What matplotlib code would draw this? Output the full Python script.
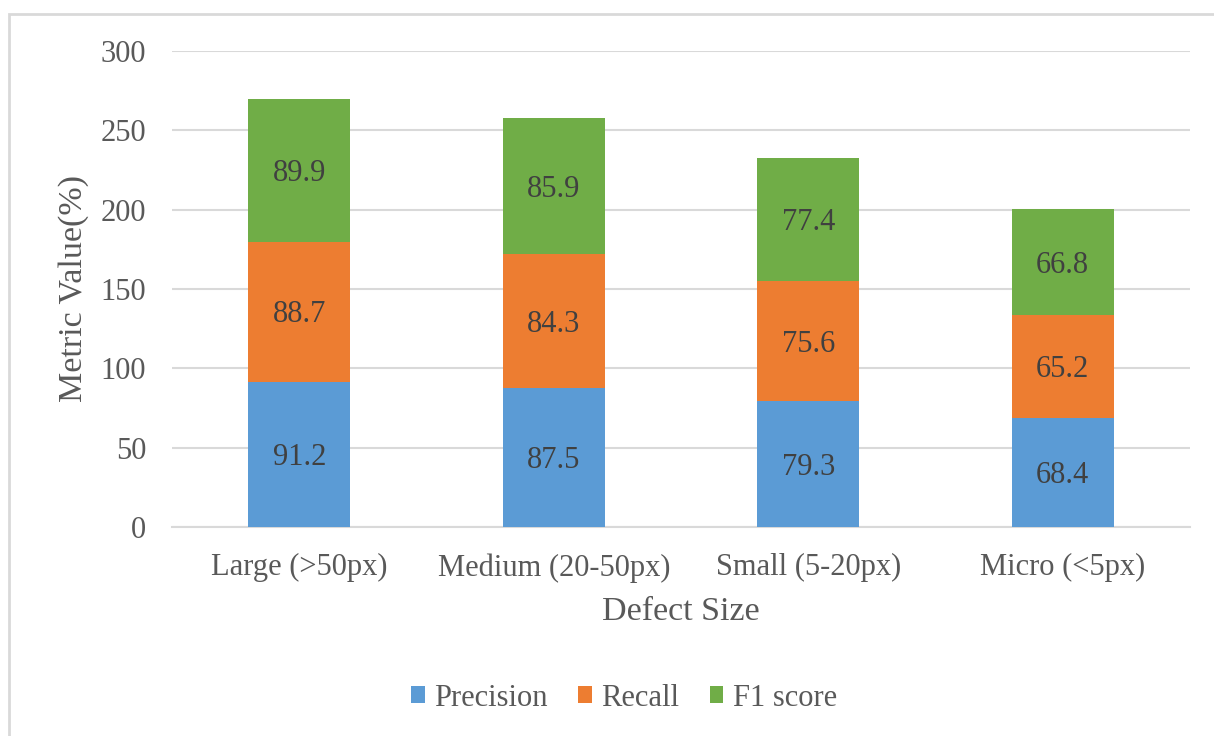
import matplotlib
matplotlib.use("Agg")
import matplotlib.pyplot as plt
from matplotlib.patches import Rectangle
import numpy as np

categories = ["Large (>50px)", "Medium (20-50px)", "Small (5-20px)", "Micro (<5px)"]
precision = [91.2, 87.5, 79.3, 68.4]
recall = [88.7, 84.3, 75.6, 65.2]
f1_score = [89.9, 85.9, 77.4, 66.8]
series_names = ["Precision", "Recall", "F1 score"]
colors = ["#5B9BD5", "#ED7D31", "#70AD47"]

W, H, DPI = 1214, 736, 100
plt.rcParams["font.family"] = ["Liberation Serif", "DejaVu Serif"]
text_color = "#595959"

fig = plt.figure(figsize=(W / DPI, H / DPI), dpi=DPI)
fig.patch.set_facecolor("white")

# outer chart frame
fig.patches.append(Rectangle((9 / W, -0.1), 1.2, (H - 14) / H + 0.1,
                             transform=fig.transFigure, fill=False,
                             edgecolor="#d9d9d9", linewidth=2))

left, right, top, bottom = 172, 1190, 51, 527
ax = fig.add_axes([left / W, 1 - bottom / H, (right - left) / W, (bottom - top) / H])

x = np.arange(len(categories))
width = 0.4
series = [precision, recall, f1_score]
base = np.zeros(len(categories))
for vals, name, col in zip(series, series_names, colors):
    vals = np.array(vals)
    ax.bar(x, vals, width, bottom=base, color=col, label=name, zorder=3)
    for xi, b, v in zip(x, base, vals):
        ax.annotate(f"{v:.1f}", (xi, b + v / 2), xytext=(0, -3),
                    textcoords="offset pixels", ha="center", va="center",
                    fontsize=22, color="#404040", zorder=4)
    base = base + vals

ax.set_xlim(-0.5, len(categories) - 0.5)
ax.set_ylim(0, 300)
ax.set_yticks(np.arange(0, 301, 50))
ax.grid(axis="y", color="#d9d9d9", linewidth=1.5, zorder=0)
for s in ["top", "right", "left"]:
    ax.spines[s].set_visible(False)
ax.spines["bottom"].set_color("#d9d9d9")
ax.spines["bottom"].set_linewidth(1.5)
ax.tick_params(axis="both", length=0, labelsize=22, colors=text_color)
ax.tick_params(axis="y", pad=18.7)
ax.tick_params(axis="x", pad=19)
ax.set_xticks(x)
ax.set_xticklabels(categories)

ax.set_ylabel("Metric Value(%)", fontsize=24.5, color=text_color, labelpad=8)
ax.set_xlabel("Defect Size", fontsize=24.5, color=text_color, labelpad=10)

leg = fig.legend(loc="center", bbox_to_anchor=(624 / W, 1 - 698 / H), ncol=3,
                 frameon=False, fontsize=22, handlelength=0.45, handleheight=0.45,
                 handletextpad=0.3, columnspacing=1.0)
for t in leg.get_texts():
    t.set_color(text_color)

fig.savefig("out.png", dpi=DPI, facecolor="white")
